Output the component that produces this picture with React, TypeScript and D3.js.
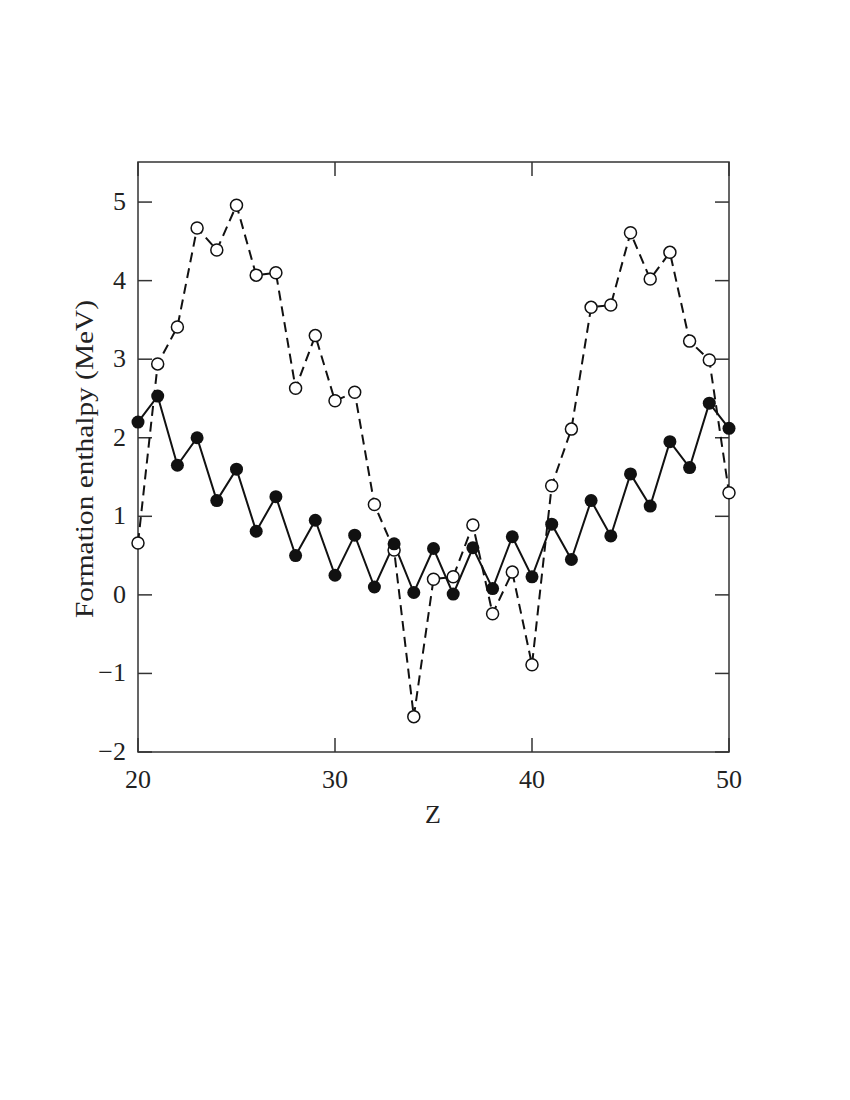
import React from "react";
import * as d3 from "d3";

const zValues = [20,21,22,23,24,25,26,27,28,29,30,31,32,33,34,35,36,37,38,39,40,41,42,43,44,45,46,47,48,49,50];
const filledSeries = [2.20,2.53,1.65,2.00,1.20,1.60,0.81,1.25,0.50,0.95,0.25,0.76,0.10,0.65,0.03,0.59,0.01,0.60,0.08,0.74,0.23,0.90,0.45,1.20,0.75,1.54,1.13,1.95,1.62,2.44,2.12];
const openSeries = [0.66,2.94,3.41,4.67,4.39,4.96,4.07,4.10,2.63,3.30,2.47,2.58,1.15,0.57,-1.55,0.20,0.23,0.89,-0.24,0.29,-0.89,1.39,2.11,3.66,3.69,4.61,4.02,4.36,3.23,2.99,1.30];
const xTicks = [20,30,40,50];
const yTicks = [-2,-1,0,1,2,3,4,5];

export default function App() {
  const W = 850, H = 1100;
  const left = 138, right = 729, top = 162, bottom = 752;
  const x = d3.scaleLinear().domain([20, 50]).range([left, right]);
  const y = d3.scaleLinear().domain([-2, 5.51]).range([bottom, top]);
  const line = d3.line<number>().x((_, i) => x(zValues[i])).y(d => y(d));
  const font = "'Liberation Serif', 'DejaVu Serif', serif";
  const tickLen = 14;
  const minus = (v: number) => (v < 0 ? "\u2212" + Math.abs(v) : String(v));
  return (
    <svg width={W} height={H} style={{ position: "absolute", left: 0, top: 0, background: "#fff" }}>
      <rect x={0} y={0} width={W} height={H} fill="#fff" />
      <rect x={left} y={top} width={right - left} height={bottom - top} fill="none" stroke="#333" strokeWidth={1.5} />
      {xTicks.map(t => (
        <g key={"x" + t}>
          <line x1={x(t)} x2={x(t)} y1={bottom} y2={bottom - tickLen} stroke="#333" strokeWidth={1.5} />
          <line x1={x(t)} x2={x(t)} y1={top} y2={top + tickLen} stroke="#333" strokeWidth={1.5} />
          <text x={x(t)} y={788} textAnchor="middle" fontFamily={font} fontSize={26} fill="#222">{t}</text>
        </g>
      ))}
      {yTicks.map(t => (
        <g key={"y" + t}>
          <line x1={left} x2={left + tickLen} y1={y(t)} y2={y(t)} stroke="#333" strokeWidth={1.5} />
          <line x1={right} x2={right - tickLen} y1={y(t)} y2={y(t)} stroke="#333" strokeWidth={1.5} />
          <text x={126} y={y(t) + 8} textAnchor="end" fontFamily={font} fontSize={26} fill="#222">{minus(t)}</text>
        </g>
      ))}
      <text x={433} y={823} textAnchor="middle" fontFamily={font} fontSize={26} fill="#222">Z</text>
      <text transform={`translate(93, ${459}) rotate(-90)`} textAnchor="middle" fontFamily={font} fontSize={26} textLength={318} lengthAdjust="spacingAndGlyphs" fill="#222">Formation enthalpy (MeV)</text>
      <path d={line(openSeries) || ""} fill="none" stroke="#111" strokeWidth={2} strokeDasharray="10,6" />
      <path d={line(filledSeries) || ""} fill="none" stroke="#111" strokeWidth={2} />
      {openSeries.map((v, i) => (
        <circle key={"o" + i} cx={x(zValues[i])} cy={y(v)} r={6} fill="#fff" stroke="#111" strokeWidth={1.5} />
      ))}
      {filledSeries.map((v, i) => (
        <circle key={"f" + i} cx={x(zValues[i])} cy={y(v)} r={6.5} fill="#111" />
      ))}
    </svg>
  );
}
